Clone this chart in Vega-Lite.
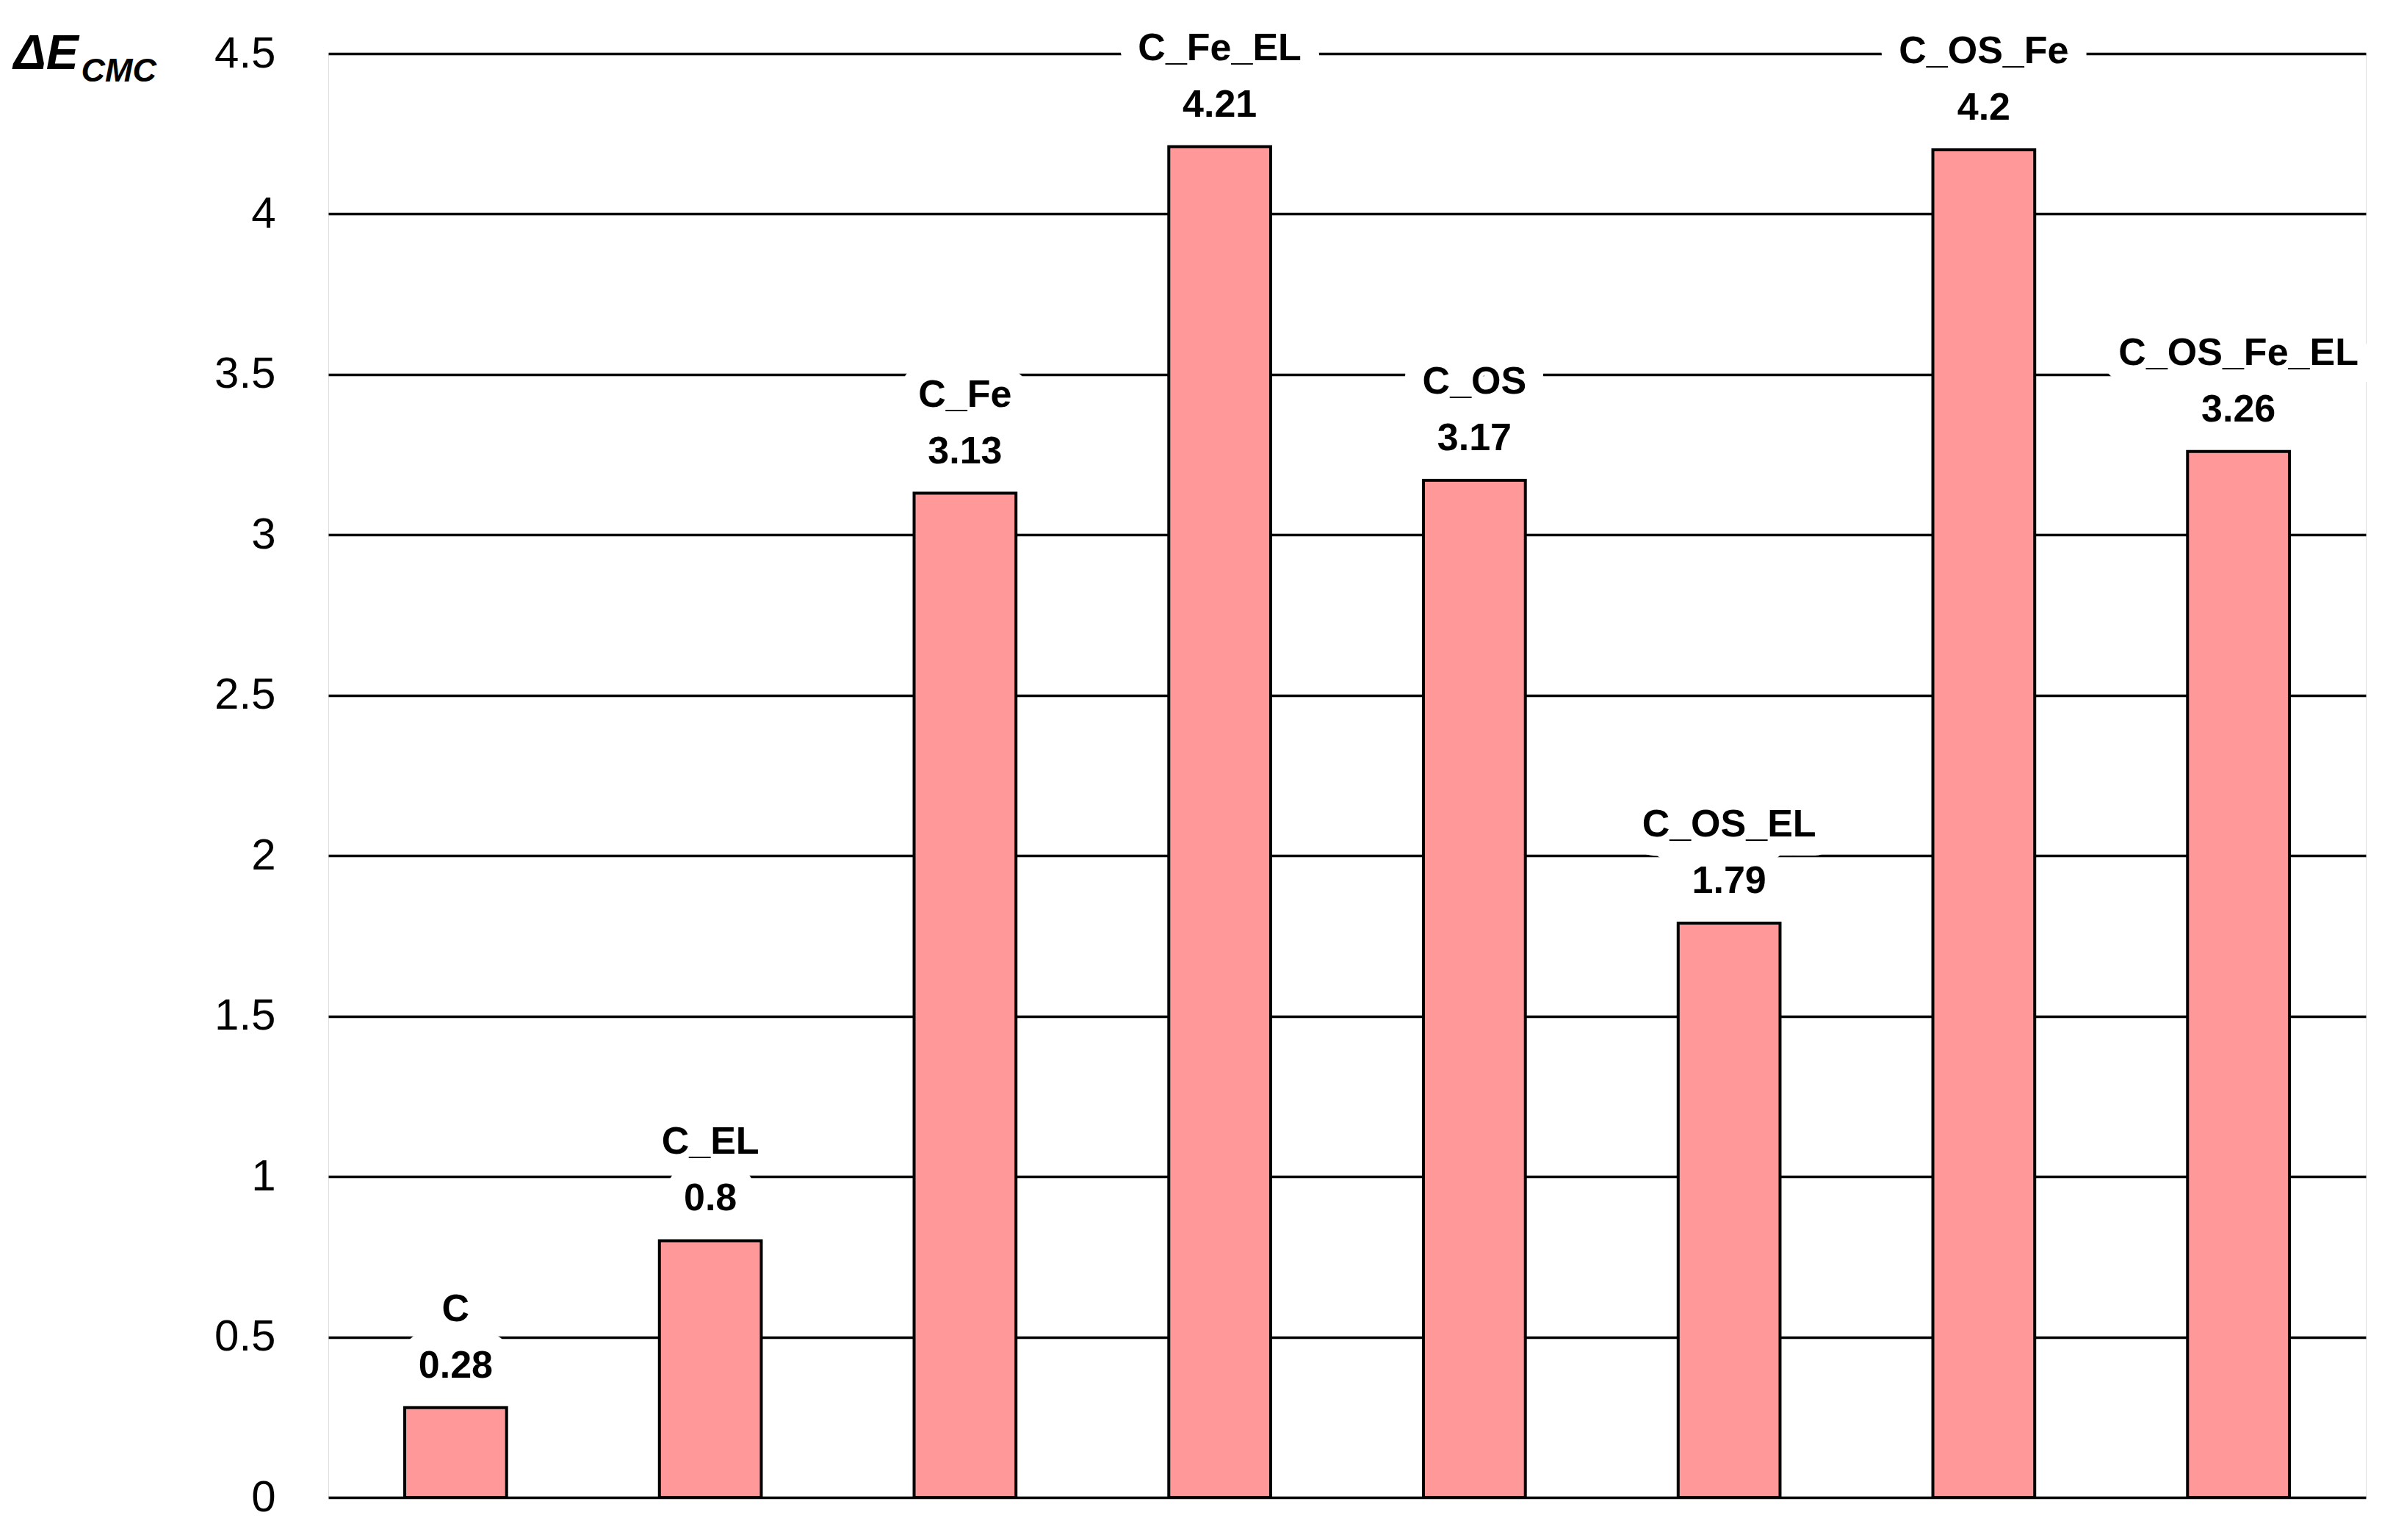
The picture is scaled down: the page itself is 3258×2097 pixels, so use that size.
{
  "$schema": "https://vega.github.io/schema/vega-lite/v6.json",
  "autosize": "none",
  "width": 2774,
  "height": 1966,
  "padding": {"left": 447, "top": 73, "right": 37, "bottom": 58},
  "background": "white",
  "data": {"values": [
    {"name": "C", "value": 0.28},
    {"name": "C_EL", "value": 0.8},
    {"name": "C_Fe", "value": 3.13},
    {"name": "C_Fe_EL", "value": 4.21},
    {"name": "C_OS", "value": 3.17},
    {"name": "C_OS_EL", "value": 1.79},
    {"name": "C_OS_Fe", "value": 4.2},
    {"name": "C_OS_Fe_EL", "value": 3.26}
  ]},
  "encoding": {
    "x": {"field": "name", "type": "nominal", "sort": null,
      "scale": {"paddingInner": 0.6, "paddingOuter": 0.3},
      "axis": {"labels": false, "ticks": false, "domain": false, "grid": false,
        "title": "CMC", "titleX": -337, "titleY": -1929, "titleAlign": "left", "titleBaseline": "alphabetic",
        "titleFont": "Liberation Sans", "titleFontStyle": "italic", "titleFontWeight": "bold", "titleFontSize": 45, "titleColor": "black"}},
    "y": {"field": "value", "type": "quantitative",
      "scale": {"domain": [0, 4.5], "nice": false, "zero": true},
      "axis": {"values": [0, 0.5, 1, 1.5, 2, 2.5, 3, 3.5, 4, 4.5], "format": ".1~f",
        "ticks": false, "domain": false, "grid": true, "gridColor": "black", "gridWidth": 3.5, "gridOpacity": 1,
        "labelFont": "Liberation Sans", "labelFontSize": 60, "labelColor": "black", "labelPadding": 72,
        "title": "ΔE", "titleX": -429, "titleY": 20, "titleAngle": 0, "titleAlign": "left", "titleBaseline": "alphabetic",
        "titleFont": "Liberation Sans", "titleFontStyle": "italic", "titleFontWeight": "bold", "titleFontSize": 66, "titleColor": "black"}}
  },
  "layer": [
    {"mark": {"type": "bar", "fill": "#FF9999", "stroke": "black", "strokeWidth": 4}},
    {"mark": {"type": "text", "font": "Liberation Sans", "fontWeight": "bold", "fontSize": 52, "baseline": "middle", "dy": -57, "fill": "white", "stroke": "white", "strokeWidth": 52, "strokeJoin": "round"},
      "encoding": {"text": {"field": "value", "type": "quantitative", "format": ".2~f"}}},
    {"mark": {"type": "text", "font": "Liberation Sans", "fontWeight": "bold", "fontSize": 52, "baseline": "middle", "dy": -134, "fill": "white", "stroke": "white", "strokeWidth": 52, "strokeJoin": "round"},
      "encoding": {"text": {"field": "name", "type": "nominal"}}},
    {"mark": {"type": "text", "font": "Liberation Sans", "fontWeight": "bold", "fontSize": 52, "baseline": "middle", "dy": -57, "color": "black"},
      "encoding": {"text": {"field": "value", "type": "quantitative", "format": ".2~f"}}},
    {"mark": {"type": "text", "font": "Liberation Sans", "fontWeight": "bold", "fontSize": 52, "baseline": "middle", "dy": -134, "color": "black"},
      "encoding": {"text": {"field": "name", "type": "nominal"}}}
  ]
}
